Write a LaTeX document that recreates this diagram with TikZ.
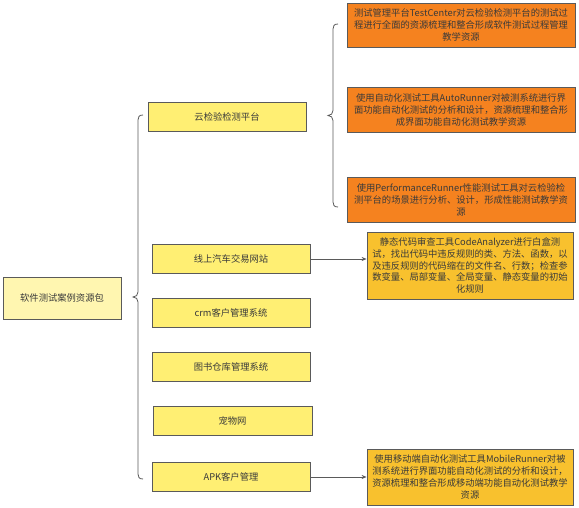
\documentclass[tikz,border=0pt]{standalone}
\usepackage{fontspec}
\setmainfont{Noto Sans CJK SC}
\usetikzlibrary{arrows.meta}
\definecolor{rootfill}{HTML}{FFF6B0}
\definecolor{childfill}{HTML}{FFEF73}
\definecolor{orangefill}{HTML}{F5821F}
\definecolor{goldfill}{HTML}{F8C12E}
\definecolor{edgegray}{HTML}{5A5A5A}
\definecolor{txt}{HTML}{3A3A3A}
\tikzset{
  base/.style={draw=edgegray, line width=0.8pt, inner sep=0pt, align=center,
    text=txt, font=\fontsize{9.3}{11.8}\selectfont},
  rootbox/.style={base, fill=rootfill, minimum width=118pt, minimum height=42pt},
  childbox/.style={base, fill=childfill, minimum width=158pt, minimum height=29pt},
  orangebox/.style={base, fill=orangefill, minimum width=228pt, minimum height=45pt},
  goldbox/.style={base, fill=goldfill, minimum width=206pt},
  bracket/.style={draw=edgegray, line width=0.8pt},
  link/.style={draw=edgegray, line width=0.8pt, -{Stealth[length=5pt,width=4pt]}}
}
\begin{document}
\begin{tikzpicture}[x=1pt,y=-1pt]
\useasboundingbox (0,0) rectangle (579,508);

\node[rootbox] (root) at (62,298) {软件测试案例资源包};

\node[childbox] (c1) at (227,116.5) {云检验检测平台};
\node[childbox] (c2) at (231,259) {线上汽车交易网站};
\node[childbox] (c3) at (231,313) {crm客户管理系统};
\node[childbox] (c4) at (231,366.5) {图书仓库管理系统};
\node[childbox, minimum width=159pt] (c5) at (232.5,421) {宠物网};
\node[childbox] (c6) at (231,477) {APK客户管理};

\node[orangebox, minimum height=44pt] (o1) at (461,25) {测试管理平台TestCenter对云检验检测平台的测试过\\程进行全面的资源梳理和整合形成软件测试过程管理\\教学资源};
\node[orangebox] (o2) at (461,110) {使用自动化测试工具AutoRunner对被测系统进行界\\面功能自动化测试的分析和设计，资源梳理和整合形\\成界面功能自动化测试教学资源};
\node[orangebox] (o3) at (461,200) {使用PerformanceRunner性能测试工具对云检验检\\测平台的场景进行分析、设计，形成性能测试教学资\\源};

\node[goldbox, minimum height=67pt] (g1) at (470,265.5) {静态代码审查工具CodeAnalyzer进行白盒测\\试，找出代码中违反规则的类、方法、函数，以\\及违反规则的代码缩在的文件名、行数；检查参\\数变量、局部变量、全局变量、静态变量的初始\\化规则};
\node[goldbox, minimum height=56pt] (g2) at (470,477) {使用移动端自动化测试工具MobileRunner对被\\测系统进行界面功能自动化测试的分析和设计，\\资源梳理和整合形成移动端功能自动化测试教学\\资源};

% brace from root to children
\coordinate (b1tip) at (133,297);
\draw[bracket] (143,115) .. controls (139,115) and (138,117) .. (138,120)
  -- (138,292) .. controls (138,295) and (136,297) .. (b1tip)
  .. controls (136,297) and (138,299) .. (138,302)
  -- (138,474) .. controls (138,477) and (139,479) .. (143,479);

% brace from 云检验检测平台 to orange boxes
\coordinate (b2tip) at (328,115.5);
\draw[bracket] (338,24) .. controls (334,24) and (333,26) .. (333,29)
  -- (333,110.5) .. controls (333,113.5) and (331,115.5) .. (b2tip)
  .. controls (331,115.5) and (333,117.5) .. (333,120.5)
  -- (333,202) .. controls (333,205) and (334,207) .. (338,207);

\draw[link] (c2.east) -- (c2.east -| g1.west);
\draw[link] (c6.east) -- (c6.east -| g2.west);
\end{tikzpicture}
\end{document}
